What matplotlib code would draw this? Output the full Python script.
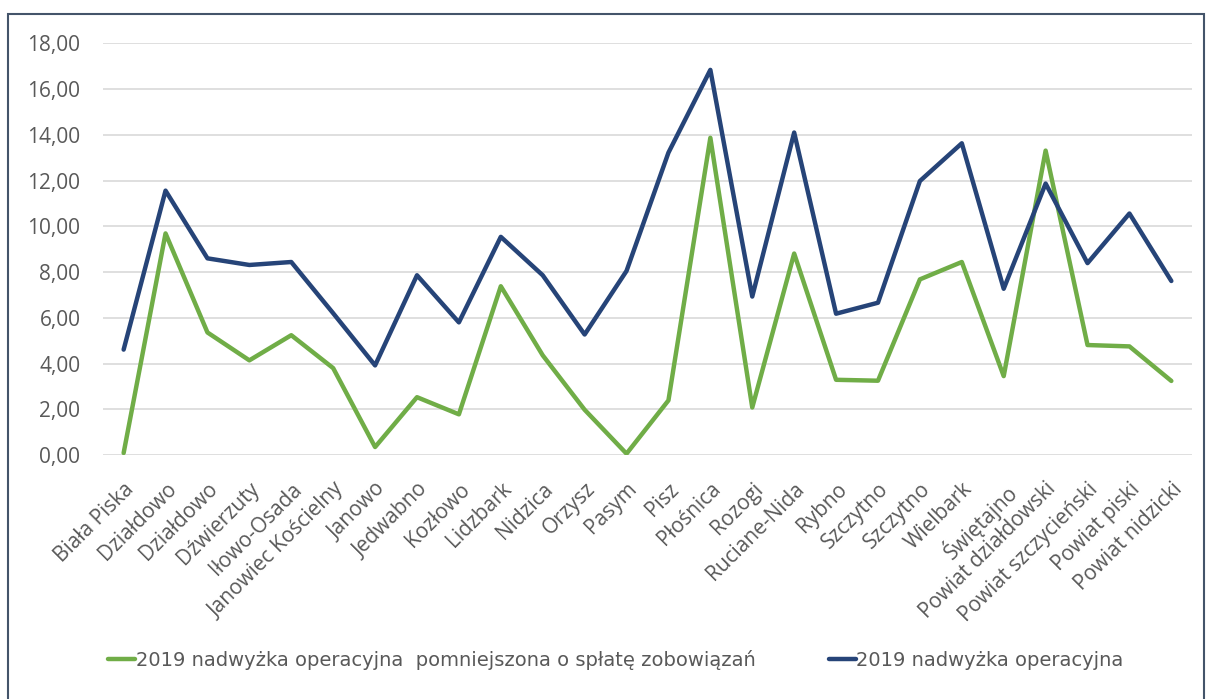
import matplotlib.pyplot as plt
from matplotlib.patches import Rectangle
from matplotlib.ticker import FuncFormatter

gminy = ['Biała Piska', 'Działdowo', 'Działdowo', 'Dźwierzuty', 'Iłowo-Osada',
         'Janowiec Kościelny', 'Janowo', 'Jedwabno', 'Kozłowo', 'Lidzbark',
         'Nidzica', 'Orzysz', 'Pasym', 'Pisz', 'Płośnica', 'Rozogi',
         'Ruciane-Nida', 'Rybno', 'Szczytno', 'Szczytno', 'Wielbark',
         'Świętajno', 'Powiat działdowski', 'Powiat szczycieński',
         'Powiat piski', 'Powiat nidzicki']

# nadwyżka operacyjna pomniejszona o spłatę zobowiązań
nadwyzka_netto = [0.09, 9.69, 5.36, 4.14, 5.24, 3.80, 0.35, 2.53, 1.78, 7.38,
                  4.36, 1.98, 0.06, 2.39, 13.87, 2.08, 8.81, 3.29, 3.25, 7.68,
                  8.44, 3.45, 13.31, 4.81, 4.75, 3.24]

# nadwyżka operacyjna
nadwyzka = [4.61, 11.56, 8.60, 8.31, 8.44, 6.20, 3.92, 7.86, 5.80, 9.54,
            7.86, 5.27, 8.05, 13.22, 16.84, 6.93, 14.10, 6.18, 6.66, 11.98,
            13.63, 7.27, 11.87, 8.39, 10.56, 7.61]

labels = ['2019 nadwyżka operacyjna  pomniejszona o spłatę zobowiązań',
          '2019 nadwyżka operacyjna']

green = '#70AD47'
navy = '#264478'
txt = '#595959'

fig = plt.figure(figsize=(12.08, 6.99), dpi=100)
ax = fig.add_axes([0.085, 0.349, 0.902, 0.589])

x = range(len(gminy))
l1, = ax.plot(x, nadwyzka_netto, color=green, lw=3.2, solid_joinstyle='round',
              solid_capstyle='round', label=labels[0], zorder=3)
l2, = ax.plot(x, nadwyzka, color=navy, lw=3.2, solid_joinstyle='round',
              solid_capstyle='round', label=labels[1], zorder=3)

ax.set_xlim(-0.5, len(gminy) - 0.5)
ax.set_ylim(0, 18)
ax.set_yticks(range(0, 19, 2))
ax.yaxis.set_major_formatter(FuncFormatter(lambda v, p: f'{v:.2f}'.replace('.', ',')))
ax.grid(axis='y', color='#D9D9D9', lw=1.2)
ax.set_axisbelow(True)
for s in ax.spines.values():
    s.set_visible(False)
ax.tick_params(length=0, labelcolor=txt)
ax.tick_params(axis='x', labelsize=15, pad=17)
ax.tick_params(axis='y', labelsize=15, pad=16)

ax.set_xticks(list(x))
ax.set_xticklabels(gminy, rotation=45, ha='right', rotation_mode='anchor',
                   fontfamily='Open Sans')
for t in ax.get_yticklabels():
    t.set_fontfamily('Open Sans')

fig.legend(handles=[l1, l2], loc='center', bbox_to_anchor=(0.51, 0.056),
           ncol=2, frameon=False, handlelength=1.35, columnspacing=3.8,
           handletextpad=0.05,
           prop={'family': ['Liberation Sans Narrow', 'DejaVu Sans'], 'size': 14},
           labelcolor=txt)

fig.patches.append(Rectangle((0.007, -0.02), 0.99, 1.0, transform=fig.transFigure,
                             fill=False, edgecolor='#44546A', lw=1.5))

fig.savefig('out.png', dpi=100)
